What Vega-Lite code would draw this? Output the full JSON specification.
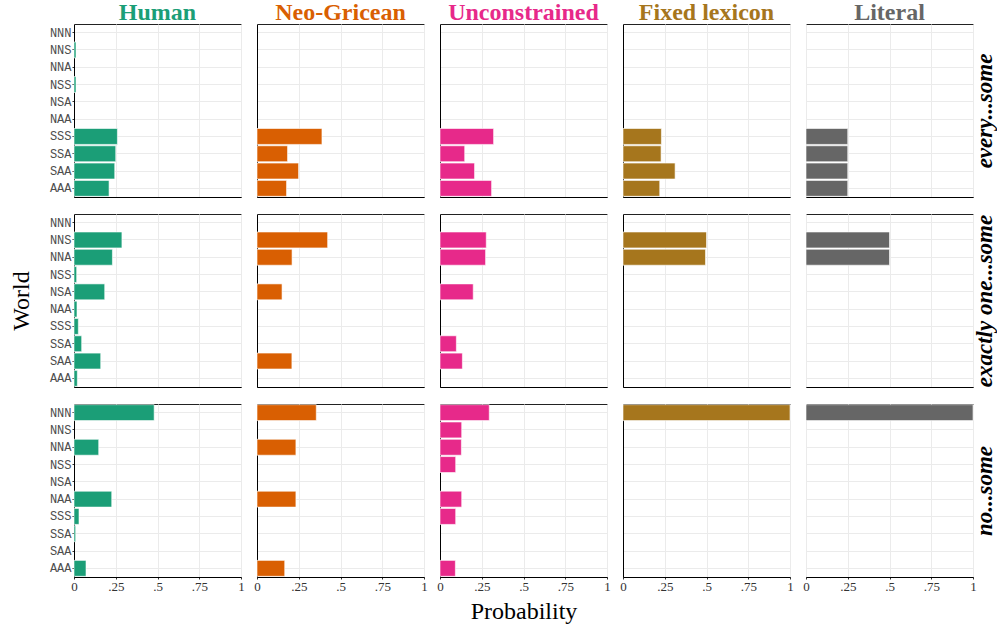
{
  "$schema": "https://vega.github.io/schema/vega-lite/v6.json",
  "padding": {"left": 8, "top": 0, "right": 0, "bottom": 0},
  "data": {"values": [
    {"cond": "every...some", "model": "Human", "world": "NNS", "p": 0.012},
    {"cond": "every...some", "model": "Human", "world": "NSS", "p": 0.012},
    {"cond": "every...some", "model": "Human", "world": "SSS", "p": 0.26},
    {"cond": "every...some", "model": "Human", "world": "SSA", "p": 0.25},
    {"cond": "every...some", "model": "Human", "world": "SAA", "p": 0.244},
    {"cond": "every...some", "model": "Human", "world": "AAA", "p": 0.21},
    {"cond": "every...some", "model": "Neo-Gricean", "world": "SSS", "p": 0.389},
    {"cond": "every...some", "model": "Neo-Gricean", "world": "SSA", "p": 0.183},
    {"cond": "every...some", "model": "Neo-Gricean", "world": "SAA", "p": 0.249},
    {"cond": "every...some", "model": "Neo-Gricean", "world": "AAA", "p": 0.177},
    {"cond": "every...some", "model": "Unconstrained", "world": "SSS", "p": 0.321},
    {"cond": "every...some", "model": "Unconstrained", "world": "SSA", "p": 0.148},
    {"cond": "every...some", "model": "Unconstrained", "world": "SAA", "p": 0.207},
    {"cond": "every...some", "model": "Unconstrained", "world": "AAA", "p": 0.309},
    {"cond": "every...some", "model": "Fixed lexicon", "world": "SSS", "p": 0.23},
    {"cond": "every...some", "model": "Fixed lexicon", "world": "SSA", "p": 0.228},
    {"cond": "every...some", "model": "Fixed lexicon", "world": "SAA", "p": 0.312},
    {"cond": "every...some", "model": "Fixed lexicon", "world": "AAA", "p": 0.22},
    {"cond": "every...some", "model": "Literal", "world": "SSS", "p": 0.25},
    {"cond": "every...some", "model": "Literal", "world": "SSA", "p": 0.25},
    {"cond": "every...some", "model": "Literal", "world": "SAA", "p": 0.25},
    {"cond": "every...some", "model": "Literal", "world": "AAA", "p": 0.25},
    {"cond": "exactly one...some", "model": "Human", "world": "NNS", "p": 0.287},
    {"cond": "exactly one...some", "model": "Human", "world": "NNA", "p": 0.23},
    {"cond": "exactly one...some", "model": "Human", "world": "NSS", "p": 0.016},
    {"cond": "exactly one...some", "model": "Human", "world": "NSA", "p": 0.184},
    {"cond": "exactly one...some", "model": "Human", "world": "NAA", "p": 0.018},
    {"cond": "exactly one...some", "model": "Human", "world": "SSS", "p": 0.026},
    {"cond": "exactly one...some", "model": "Human", "world": "SSA", "p": 0.046},
    {"cond": "exactly one...some", "model": "Human", "world": "SAA", "p": 0.16},
    {"cond": "exactly one...some", "model": "Human", "world": "AAA", "p": 0.02},
    {"cond": "exactly one...some", "model": "Neo-Gricean", "world": "NNS", "p": 0.423},
    {"cond": "exactly one...some", "model": "Neo-Gricean", "world": "NNA", "p": 0.21},
    {"cond": "exactly one...some", "model": "Neo-Gricean", "world": "NSA", "p": 0.15},
    {"cond": "exactly one...some", "model": "Neo-Gricean", "world": "SAA", "p": 0.209},
    {"cond": "exactly one...some", "model": "Unconstrained", "world": "NNS", "p": 0.277},
    {"cond": "exactly one...some", "model": "Unconstrained", "world": "NNA", "p": 0.273},
    {"cond": "exactly one...some", "model": "Unconstrained", "world": "NSA", "p": 0.199},
    {"cond": "exactly one...some", "model": "Unconstrained", "world": "SSA", "p": 0.098},
    {"cond": "exactly one...some", "model": "Unconstrained", "world": "SAA", "p": 0.134},
    {"cond": "exactly one...some", "model": "Fixed lexicon", "world": "NNS", "p": 0.5},
    {"cond": "exactly one...some", "model": "Fixed lexicon", "world": "NNA", "p": 0.494},
    {"cond": "exactly one...some", "model": "Literal", "world": "NNS", "p": 0.5},
    {"cond": "exactly one...some", "model": "Literal", "world": "NNA", "p": 0.5},
    {"cond": "no...some", "model": "Human", "world": "NNN", "p": 0.48},
    {"cond": "no...some", "model": "Human", "world": "NNA", "p": 0.148},
    {"cond": "no...some", "model": "Human", "world": "NAA", "p": 0.226},
    {"cond": "no...some", "model": "Human", "world": "SSS", "p": 0.03},
    {"cond": "no...some", "model": "Human", "world": "SSA", "p": 0.01},
    {"cond": "no...some", "model": "Human", "world": "AAA", "p": 0.072},
    {"cond": "no...some", "model": "Neo-Gricean", "world": "NNN", "p": 0.355},
    {"cond": "no...some", "model": "Neo-Gricean", "world": "NNA", "p": 0.233},
    {"cond": "no...some", "model": "Neo-Gricean", "world": "NAA", "p": 0.233},
    {"cond": "no...some", "model": "Neo-Gricean", "world": "AAA", "p": 0.166},
    {"cond": "no...some", "model": "Unconstrained", "world": "NNN", "p": 0.295},
    {"cond": "no...some", "model": "Unconstrained", "world": "NNS", "p": 0.13},
    {"cond": "no...some", "model": "Unconstrained", "world": "NNA", "p": 0.128},
    {"cond": "no...some", "model": "Unconstrained", "world": "NSS", "p": 0.094},
    {"cond": "no...some", "model": "Unconstrained", "world": "NAA", "p": 0.13},
    {"cond": "no...some", "model": "Unconstrained", "world": "SSS", "p": 0.094},
    {"cond": "no...some", "model": "Unconstrained", "world": "AAA", "p": 0.092},
    {"cond": "no...some", "model": "Fixed lexicon", "world": "NNN", "p": 1.0},
    {"cond": "no...some", "model": "Literal", "world": "NNN", "p": 1.0}
  ]},
  "columns": 5,
  "spacing": {"row": 15, "column": 8},
  "concat": [
    {"title": {"text": "Human", "color": "#1b9e77"},
     "transform": [{"filter": "datum.model === 'Human' && datum.cond === 'every...some'"}],
     "mark": {"type": "bar", "color": "#1b9e77", "stroke": "white", "strokeWidth": 0.6},
     "encoding": {
       "y": {"field": "world", "type": "nominal", "scale": {"domain": ["NNN", "NNS", "NNA", "NSS", "NSA", "NAA", "SSS", "SSA", "SAA", "AAA"], "paddingInner": 0.08, "paddingOuter": 0.04},
         "axis": {"title": null, "grid": true, "bandPosition": 0.5, "labelFont": "Liberation Mono", "labelFontSize": 12, "labelColor": "#4d4d4d", "tickSize": 2, "labelPadding": 1}},
       "x": {"field": "p", "type": "quantitative", "scale": {"domain": [0, 1]}, "axis": {"title": null, "labels": false, "ticks": false, "values": [0, 0.25, 0.5, 0.75, 1]}}}},
    {"title": {"text": "Neo-Gricean", "color": "#d95f02"},
     "transform": [{"filter": "datum.model === 'Neo-Gricean' && datum.cond === 'every...some'"}],
     "mark": {"type": "bar", "color": "#d95f02", "stroke": "white", "strokeWidth": 0.6},
     "encoding": {
       "y": {"field": "world", "type": "nominal", "scale": {"domain": ["NNN", "NNS", "NNA", "NSS", "NSA", "NAA", "SSS", "SSA", "SAA", "AAA"], "paddingInner": 0.08, "paddingOuter": 0.04},
         "axis": {"title": null, "grid": true, "bandPosition": 0.5, "labels": false, "ticks": false}},
       "x": {"field": "p", "type": "quantitative", "scale": {"domain": [0, 1]}, "axis": {"title": null, "labels": false, "ticks": false, "values": [0, 0.25, 0.5, 0.75, 1]}}}},
    {"title": {"text": "Unconstrained", "color": "#e7298a"},
     "transform": [{"filter": "datum.model === 'Unconstrained' && datum.cond === 'every...some'"}],
     "mark": {"type": "bar", "color": "#e7298a", "stroke": "white", "strokeWidth": 0.6},
     "encoding": {
       "y": {"field": "world", "type": "nominal", "scale": {"domain": ["NNN", "NNS", "NNA", "NSS", "NSA", "NAA", "SSS", "SSA", "SAA", "AAA"], "paddingInner": 0.08, "paddingOuter": 0.04},
         "axis": {"title": null, "grid": true, "bandPosition": 0.5, "labels": false, "ticks": false}},
       "x": {"field": "p", "type": "quantitative", "scale": {"domain": [0, 1]}, "axis": {"title": null, "labels": false, "ticks": false, "values": [0, 0.25, 0.5, 0.75, 1]}}}},
    {"title": {"text": "Fixed lexicon", "color": "#a6761d"},
     "transform": [{"filter": "datum.model === 'Fixed lexicon' && datum.cond === 'every...some'"}],
     "mark": {"type": "bar", "color": "#a6761d", "stroke": "white", "strokeWidth": 0.6},
     "encoding": {
       "y": {"field": "world", "type": "nominal", "scale": {"domain": ["NNN", "NNS", "NNA", "NSS", "NSA", "NAA", "SSS", "SSA", "SAA", "AAA"], "paddingInner": 0.08, "paddingOuter": 0.04},
         "axis": {"title": null, "grid": true, "bandPosition": 0.5, "labels": false, "ticks": false}},
       "x": {"field": "p", "type": "quantitative", "scale": {"domain": [0, 1]}, "axis": {"title": null, "labels": false, "ticks": false, "values": [0, 0.25, 0.5, 0.75, 1]}}}},
    {"title": {"text": "Literal", "color": "#666666"},
     "transform": [{"filter": "datum.model === 'Literal' && datum.cond === 'every...some'"}],
     "mark": {"type": "bar", "color": "#666666", "stroke": "white", "strokeWidth": 0.6},
     "encoding": {
       "y": {"field": "world", "type": "nominal", "scale": {"domain": ["NNN", "NNS", "NNA", "NSS", "NSA", "NAA", "SSS", "SSA", "SAA", "AAA"], "paddingInner": 0.08, "paddingOuter": 0.04},
         "axis": {"title": "every...some", "orient": "right", "grid": true, "bandPosition": 0.5, "labels": false, "ticks": false, "domain": false}},
       "x": {"field": "p", "type": "quantitative", "scale": {"domain": [0, 1]}, "axis": {"title": null, "labels": false, "ticks": false, "values": [0, 0.25, 0.5, 0.75, 1]}}}},

    {"transform": [{"filter": "datum.model === 'Human' && datum.cond === 'exactly one...some'"}],
     "mark": {"type": "bar", "color": "#1b9e77", "stroke": "white", "strokeWidth": 0.6},
     "encoding": {
       "y": {"field": "world", "type": "nominal", "scale": {"domain": ["NNN", "NNS", "NNA", "NSS", "NSA", "NAA", "SSS", "SSA", "SAA", "AAA"], "paddingInner": 0.08, "paddingOuter": 0.04},
         "axis": {"title": "World", "titleFont": "Liberation Serif", "titleFontSize": 24, "titleFontWeight": "normal", "titleColor": "black", "titlePadding": 16, "grid": true, "bandPosition": 0.5, "labelFont": "Liberation Mono", "labelFontSize": 12, "labelColor": "#4d4d4d", "tickSize": 2, "labelPadding": 1}},
       "x": {"field": "p", "type": "quantitative", "scale": {"domain": [0, 1]}, "axis": {"title": null, "labels": false, "ticks": false, "values": [0, 0.25, 0.5, 0.75, 1]}}}},
    {"transform": [{"filter": "datum.model === 'Neo-Gricean' && datum.cond === 'exactly one...some'"}],
     "mark": {"type": "bar", "color": "#d95f02", "stroke": "white", "strokeWidth": 0.6},
     "encoding": {
       "y": {"field": "world", "type": "nominal", "scale": {"domain": ["NNN", "NNS", "NNA", "NSS", "NSA", "NAA", "SSS", "SSA", "SAA", "AAA"], "paddingInner": 0.08, "paddingOuter": 0.04},
         "axis": {"title": null, "grid": true, "bandPosition": 0.5, "labels": false, "ticks": false}},
       "x": {"field": "p", "type": "quantitative", "scale": {"domain": [0, 1]}, "axis": {"title": null, "labels": false, "ticks": false, "values": [0, 0.25, 0.5, 0.75, 1]}}}},
    {"transform": [{"filter": "datum.model === 'Unconstrained' && datum.cond === 'exactly one...some'"}],
     "mark": {"type": "bar", "color": "#e7298a", "stroke": "white", "strokeWidth": 0.6},
     "encoding": {
       "y": {"field": "world", "type": "nominal", "scale": {"domain": ["NNN", "NNS", "NNA", "NSS", "NSA", "NAA", "SSS", "SSA", "SAA", "AAA"], "paddingInner": 0.08, "paddingOuter": 0.04},
         "axis": {"title": null, "grid": true, "bandPosition": 0.5, "labels": false, "ticks": false}},
       "x": {"field": "p", "type": "quantitative", "scale": {"domain": [0, 1]}, "axis": {"title": null, "labels": false, "ticks": false, "values": [0, 0.25, 0.5, 0.75, 1]}}}},
    {"transform": [{"filter": "datum.model === 'Fixed lexicon' && datum.cond === 'exactly one...some'"}],
     "mark": {"type": "bar", "color": "#a6761d", "stroke": "white", "strokeWidth": 0.6},
     "encoding": {
       "y": {"field": "world", "type": "nominal", "scale": {"domain": ["NNN", "NNS", "NNA", "NSS", "NSA", "NAA", "SSS", "SSA", "SAA", "AAA"], "paddingInner": 0.08, "paddingOuter": 0.04},
         "axis": {"title": null, "grid": true, "bandPosition": 0.5, "labels": false, "ticks": false}},
       "x": {"field": "p", "type": "quantitative", "scale": {"domain": [0, 1]}, "axis": {"title": null, "labels": false, "ticks": false, "values": [0, 0.25, 0.5, 0.75, 1]}}}},
    {"transform": [{"filter": "datum.model === 'Literal' && datum.cond === 'exactly one...some'"}],
     "mark": {"type": "bar", "color": "#666666", "stroke": "white", "strokeWidth": 0.6},
     "encoding": {
       "y": {"field": "world", "type": "nominal", "scale": {"domain": ["NNN", "NNS", "NNA", "NSS", "NSA", "NAA", "SSS", "SSA", "SAA", "AAA"], "paddingInner": 0.08, "paddingOuter": 0.04},
         "axis": {"title": "exactly one...some", "orient": "right", "grid": true, "bandPosition": 0.5, "labels": false, "ticks": false, "domain": false}},
       "x": {"field": "p", "type": "quantitative", "scale": {"domain": [0, 1]}, "axis": {"title": null, "labels": false, "ticks": false, "values": [0, 0.25, 0.5, 0.75, 1]}}}},

    {"transform": [{"filter": "datum.model === 'Human' && datum.cond === 'no...some'"}],
     "mark": {"type": "bar", "color": "#1b9e77", "stroke": "white", "strokeWidth": 0.6},
     "encoding": {
       "y": {"field": "world", "type": "nominal", "scale": {"domain": ["NNN", "NNS", "NNA", "NSS", "NSA", "NAA", "SSS", "SSA", "SAA", "AAA"], "paddingInner": 0.08, "paddingOuter": 0.04},
         "axis": {"title": null, "grid": true, "bandPosition": 0.5, "labelFont": "Liberation Mono", "labelFontSize": 12, "labelColor": "#4d4d4d", "tickSize": 2, "labelPadding": 1}},
       "x": {"field": "p", "type": "quantitative", "scale": {"domain": [0, 1]}, "axis": {"title": null, "values": [0, 0.25, 0.5, 0.75, 1], "labelExpr": "datum.value === 0 ? '0' : datum.value === 1 ? '1' : slice(format(datum.value, '.2~f'), 1)"}}}},
    {"transform": [{"filter": "datum.model === 'Neo-Gricean' && datum.cond === 'no...some'"}],
     "mark": {"type": "bar", "color": "#d95f02", "stroke": "white", "strokeWidth": 0.6},
     "encoding": {
       "y": {"field": "world", "type": "nominal", "scale": {"domain": ["NNN", "NNS", "NNA", "NSS", "NSA", "NAA", "SSS", "SSA", "SAA", "AAA"], "paddingInner": 0.08, "paddingOuter": 0.04},
         "axis": {"title": null, "grid": true, "bandPosition": 0.5, "labels": false, "ticks": false}},
       "x": {"field": "p", "type": "quantitative", "scale": {"domain": [0, 1]}, "axis": {"title": null, "values": [0, 0.25, 0.5, 0.75, 1], "labelExpr": "datum.value === 0 ? '0' : datum.value === 1 ? '1' : slice(format(datum.value, '.2~f'), 1)"}}}},
    {"transform": [{"filter": "datum.model === 'Unconstrained' && datum.cond === 'no...some'"}],
     "mark": {"type": "bar", "color": "#e7298a", "stroke": "white", "strokeWidth": 0.6},
     "encoding": {
       "y": {"field": "world", "type": "nominal", "scale": {"domain": ["NNN", "NNS", "NNA", "NSS", "NSA", "NAA", "SSS", "SSA", "SAA", "AAA"], "paddingInner": 0.08, "paddingOuter": 0.04},
         "axis": {"title": null, "grid": true, "bandPosition": 0.5, "labels": false, "ticks": false}},
       "x": {"field": "p", "type": "quantitative", "scale": {"domain": [0, 1]}, "axis": {"title": "Probability", "titlePadding": 6, "values": [0, 0.25, 0.5, 0.75, 1], "labelExpr": "datum.value === 0 ? '0' : datum.value === 1 ? '1' : slice(format(datum.value, '.2~f'), 1)"}}}},
    {"transform": [{"filter": "datum.model === 'Fixed lexicon' && datum.cond === 'no...some'"}],
     "mark": {"type": "bar", "color": "#a6761d", "stroke": "white", "strokeWidth": 0.6},
     "encoding": {
       "y": {"field": "world", "type": "nominal", "scale": {"domain": ["NNN", "NNS", "NNA", "NSS", "NSA", "NAA", "SSS", "SSA", "SAA", "AAA"], "paddingInner": 0.08, "paddingOuter": 0.04},
         "axis": {"title": null, "grid": true, "bandPosition": 0.5, "labels": false, "ticks": false}},
       "x": {"field": "p", "type": "quantitative", "scale": {"domain": [0, 1]}, "axis": {"title": null, "values": [0, 0.25, 0.5, 0.75, 1], "labelExpr": "datum.value === 0 ? '0' : datum.value === 1 ? '1' : slice(format(datum.value, '.2~f'), 1)"}}}},
    {"transform": [{"filter": "datum.model === 'Literal' && datum.cond === 'no...some'"}],
     "mark": {"type": "bar", "color": "#666666", "stroke": "white", "strokeWidth": 0.6},
     "encoding": {
       "y": {"field": "world", "type": "nominal", "scale": {"domain": ["NNN", "NNS", "NNA", "NSS", "NSA", "NAA", "SSS", "SSA", "SAA", "AAA"], "paddingInner": 0.08, "paddingOuter": 0.04},
         "axis": {"title": "no...some", "orient": "right", "grid": true, "bandPosition": 0.5, "labels": false, "ticks": false, "domain": false}},
       "x": {"field": "p", "type": "quantitative", "scale": {"domain": [0, 1]}, "axis": {"title": null, "values": [0, 0.25, 0.5, 0.75, 1], "labelExpr": "datum.value === 0 ? '0' : datum.value === 1 ? '1' : slice(format(datum.value, '.2~f'), 1)"}}}}
  ],
  "config": {
    "font": "Liberation Serif",
    "view": {"continuousWidth": 167, "continuousHeight": 173, "discreteWidth": 167, "discreteHeight": 173, "stroke": "#222222", "strokeWidth": 1},
    "title": {"font": "Liberation Serif", "fontSize": 24, "fontWeight": "bold", "anchor": "middle", "offset": -1},
    "axis": {"gridColor": "#ebebeb", "gridWidth": 1, "domainColor": "black", "domainWidth": 1, "tickColor": "#333333", "tickSize": 2,
      "labelFont": "Liberation Serif", "labelFontSize": 13, "labelColor": "#333333", "labelPadding": 1, "labelFlush": false,
      "titleFont": "Liberation Serif", "titleFontSize": 24, "titleFontWeight": "normal", "titleColor": "black", "titlePadding": 10},
    "axisRight": {"titleFontSize": 23, "titleFontWeight": "bold", "titleFontStyle": "italic", "titleAngle": 270, "titlePadding": 0, "titleBaseline": "top"}
  }
}
